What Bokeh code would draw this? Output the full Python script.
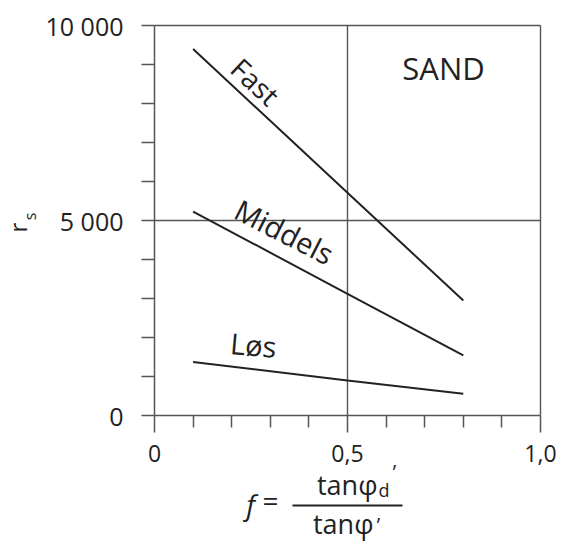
import math
from bokeh.plotting import figure
from bokeh.models import Range1d, FixedTicker, Label, Arrow, LinearAxis
from bokeh.embed import file_html
from bokeh.resources import INLINE

# ---- data ----
f_vals = [0.1, 0.5, 0.8]
fast = [9400, 5710, 2950]
middels = [5230, 3120, 1540]
los = [1370, 900, 556]

x_major = [0, 0.5, 1.0]
x_minor = [0.1, 0.2, 0.3, 0.4, 0.6, 0.7, 0.8, 0.9]
x_labels = ["0", "0,5", "1,0"]
y_major = [0, 5000, 10000]
y_minor = [1000, 2000, 3000, 4000, 6000, 7000, 8000, 9000]
y_labels = ["0", "5 000", "10 000"]

FONT = "Open Sans"
INK = "#222222"
FRAME = "#555555"

W, H = 558, 542
# canvas pixel positions of the data box (x 0..1, y 0..10000)
X0, X1, Y0, Y1 = 154, 540, 415, 25

def px2x(px):
    return (px - X0) / (X1 - X0)
def py2y(py):
    return (Y0 - py) / (Y0 - Y1) * 10000

p = figure(width=W, height=H,
           x_range=Range1d(px2x(0), px2x(W)), y_range=Range1d(py2y(H), py2y(0)),
           x_axis_type=None, y_axis_type=None,
           output_backend="svg", toolbar_location=None, min_border=0)
p.outline_line_color = None
p.background_fill_color = "white"
p.border_fill_color = "white"

xa = LinearAxis(fixed_location=0, bounds=(x_major[0], x_major[-1]),
                ticker=FixedTicker(ticks=x_major, minor_ticks=x_minor),
                major_label_overrides={k: v for k, v in zip(x_major, x_labels)})
ya = LinearAxis(fixed_location=0, bounds=(y_major[0], y_major[-1]),
                ticker=FixedTicker(ticks=y_major, minor_ticks=y_minor),
                major_label_overrides={k: v for k, v in zip(y_major, y_labels)})
for ax in (xa, ya):
    ax.axis_line_color = FRAME
    ax.axis_line_width = 1.5
    ax.major_tick_line_color = FRAME
    ax.minor_tick_line_color = FRAME
    ax.major_tick_line_width = 1.5
    ax.minor_tick_line_width = 1.5
    ax.major_tick_in = 0
    ax.minor_tick_in = 0
    ax.major_label_text_font = FONT
    ax.major_label_text_color = INK
xa.major_label_text_font_size = "23px"
ya.major_label_text_font_size = "25px"
xa.major_tick_out = 17
xa.minor_tick_out = 12
xa.major_label_standoff = 12
ya.major_tick_out = 13
ya.minor_tick_out = 13
ya.major_label_standoff = 18
p.add_layout(xa, "below")
p.add_layout(ya, "left")

# frame top/right edges and the two grid lines, placed on the tick values
p.segment(x0=[x_major[0], x_major[-1], x_major[1], x_major[0]],
          y0=[y_major[-1], y_major[0], y_major[0], y_major[1]],
          x1=[x_major[-1], x_major[-1], x_major[1], x_major[-1]],
          y1=[y_major[-1], y_major[-1], y_major[-1], y_major[1]],
          line_color=FRAME, line_width=1.4)

# curves
for ys in (fast, middels, los):
    p.line(f_vals, ys, line_color=INK, line_width=2)

def lab(text, px, py, size, angle=0.0, style="normal", align="center", base="middle"):
    p.add_layout(Label(x=px2x(px), y=py2y(py), text=text, angle=math.radians(angle),
                       text_font=FONT, text_font_size=f"{size}px",
                       text_font_style=style, text_color=INK,
                       text_align=align, text_baseline=base))

# curve labels
lab("Fast", 255, 81, 28, -43)
lab("Middels", 284, 231, 29, -27)
lab("Løs", 253, 344, 29, -5)
lab("SAND", 443, 67, 31)

# y axis title r_s
lab("r", 17, 227, 24, 90)
lab("s", 29, 216, 16, 90)

# x axis title  f = tanφd' / tanφ'
lab("f", 250, 503, 28, 0, "italic", base="alphabetic")
lab("=", 270, 499, 28, base="alphabetic")
lab("tanφ", 377, 484, 27, align="right", base="alphabetic")
lab("d", 378, 489, 18, align="left", base="alphabetic")
lab("’", 394, 471, 20)
p.add_layout(Arrow(start=None, end=None, x_start=px2x(292), y_start=py2y(505),
                   x_end=px2x(402), y_end=py2y(505), line_color=INK, line_width=2))
lab("tanφ", 373, 523, 27, align="right", base="alphabetic")
lab("’", 378, 524, 20)

open("out.html", "w").write(file_html(p, INLINE))
